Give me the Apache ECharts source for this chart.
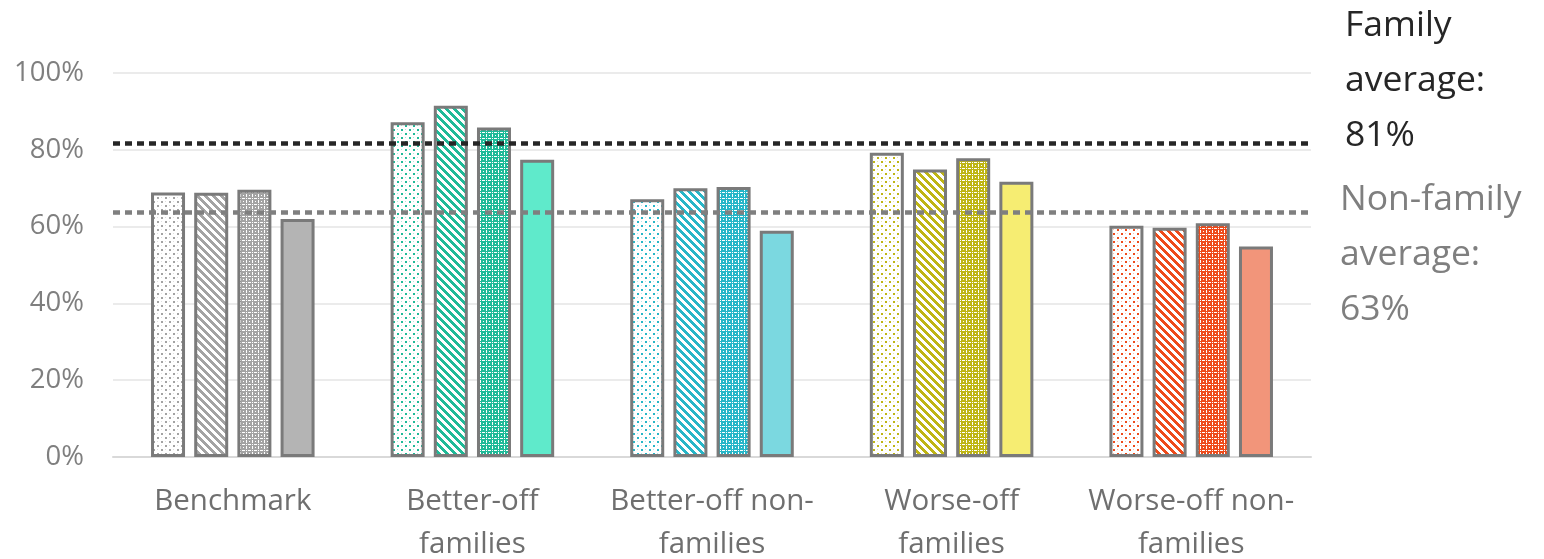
<!DOCTYPE html>
<html><head><meta charset="utf-8">
<script src="https://cdn.jsdelivr.net/npm/echarts@6/dist/echarts.min.js"></script>
<style>html,body{margin:0;padding:0;background:#fff}#c{width:1544px;height:559px}</style>
</head><body><div id="c"></div>
<script>
// ---- data ----
const categories = ['Benchmark', 'Better-off\nfamilies', 'Better-off non-\nfamilies', 'Worse-off\nfamilies', 'Worse-off non-\nfamilies'];
const dottedValues  = [68.9, 87.2, 67.1, 79.2, 60.2];
const stripedValues = [68.8, 91.5, 70.0, 74.9, 59.7];
const gridValues    = [69.6, 85.8, 70.3, 77.8, 60.9];
const solidValues   = [62.0, 77.4, 58.9, 71.7, 54.8];
const familyAverage = 81.7;
const nonFamilyAverage = 63.8;
const familyText = 'Family\naverage:\n81%';
const nonFamilyText = 'Non-family\naverage:\n63%';

// ---- styles ----
const patternColors = ['#a3a3a3', '#1fba98', '#27b6c8', '#bfb514', '#ee4b1b'];
const solidColors   = ['#b4b4b4', '#5feacb', '#7bd8e0', '#f6ed72', '#f2957a'];

function makeTile(kind, color) {
  const n = kind === 'dots' ? 8 : (kind === 'stripes' ? 8 : 6);
  const c = document.createElement('canvas');
  c.width = n; c.height = n;
  const g = c.getContext('2d');
  g.fillStyle = '#ffffff'; g.fillRect(0, 0, n, n);
  g.fillStyle = color;
  if (kind === 'dots') {
    g.fillRect(1, 1, 2, 2); g.fillRect(5, 5, 2, 2);
    g.globalAlpha = 0.35; g.fillRect(5, 1, 1, 1); g.fillRect(1, 5, 1, 1);
  } else if (kind === 'stripes') {
    for (let y = 0; y < n; y++) for (let x = 0; x < n; x++) {
      if ((((x - y) % 8) + 8) % 8 < 4) g.fillRect(x, y, 1, 1);
    }
  } else {
    for (let y = 0; y < n; y++) for (let x = 0; x < n; x++) {
      const white = (x === 0 && y % 2 === 0) || (y === 0 && x % 2 === 0) ||
                    (x === 3 && y === 3) || (x === 3 && y === 0) || (x === 0 && y === 3);
      if (!white) g.fillRect(x, y, 1, 1);
    }
  }
  return c;
}

const kinds = ['dots', 'stripes', 'grid', 'solid'];
const valueSets = [dottedValues, stripedValues, gridValues, solidValues];

const series = kinds.map((kind, si) => ({
  type: 'bar',
  name: 'series' + si,
  barWidth: 34,
  barGap: '27%',
  data: valueSets[si].map((v, ci) => ({
    value: v,
    itemStyle: {
      color: kind === 'solid' ? solidColors[ci] : { image: makeTile(kind, patternColors[ci]), repeat: 'repeat' },
      borderColor: '#7a7a7a',
      borderWidth: 3
    }
  }))
}));

series[3].markLine = {
  silent: true,
  symbol: 'none',
  label: { show: false },
  data: [
    { yAxis: familyAverage, lineStyle: { color: '#262626', type: [7, 5], width: 4.5 } },
    { yAxis: nonFamilyAverage, lineStyle: { color: '#7f7f7f', type: [7, 5], width: 4.5 } }
  ]
};

const chart = echarts.init(document.getElementById('c'), null, { renderer: 'canvas' });
chart.setOption({
  animation: false,
  backgroundColor: '#fff',
  grid: { left: 113, right: 233, top: 73, bottom: 102, containLabel: false, outerBoundsMode: 'none' },
  xAxis: {
    type: 'category',
    data: categories,
    axisTick: { show: false },
    axisLine: { lineStyle: { color: '#d9d9d9', width: 2 } },
    axisLabel: { interval: 0, color: '#6f6f6f', fontSize: 29.5, fontFamily: 'Open Sans', lineHeight: 43, margin: 23 }
  },
  yAxis: {
    type: 'value', min: 0, max: 100, interval: 20,
    axisLine: { show: false }, axisTick: { show: false },
    axisLabel: { formatter: '{value}%', color: '#7f7f7f', fontSize: 27.5, fontFamily: 'Open Sans', margin: 29 },
    splitLine: { lineStyle: { color: '#ebebeb', width: 2 } }
  },
  graphic: [
    { type: 'text', left: 1345, top: -2, style: { text: familyText, fill: '#262626', fontSize: 35.5, fontFamily: 'Open Sans', lineHeight: 55 } },
    { type: 'text', left: 1340, top: 172, style: { text: nonFamilyText, fill: '#7f7f7f', fontSize: 35.5, fontFamily: 'Open Sans', lineHeight: 55 } }
  ],
  series: series
});
</script></body></html>
